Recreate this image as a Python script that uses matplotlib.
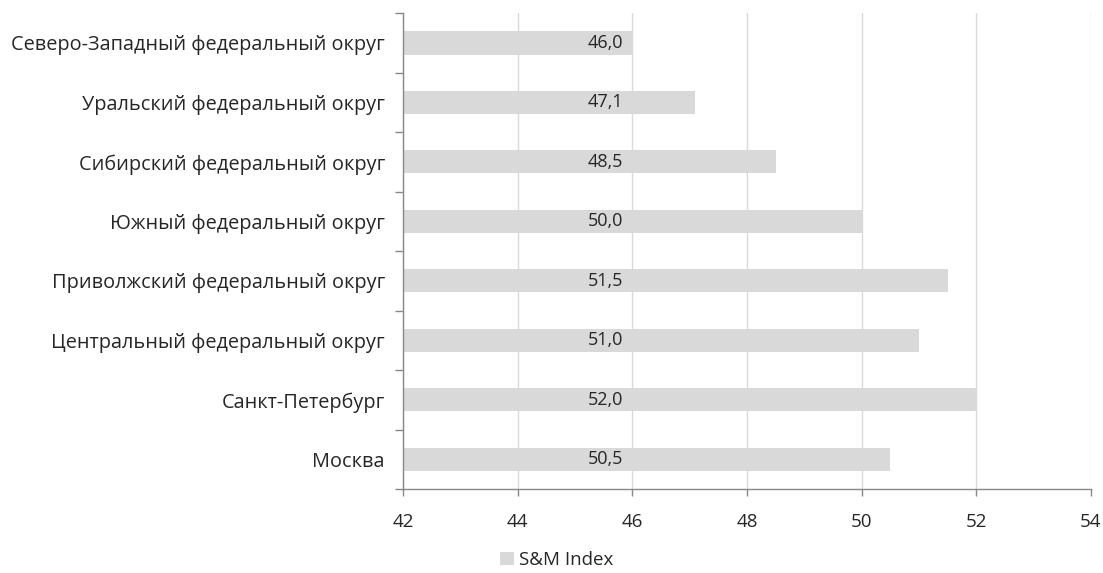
import matplotlib
matplotlib.use("Agg")
import matplotlib.pyplot as plt
from matplotlib.patches import Patch

categories = ["Северо-Западный федеральный округ", "Уральский федеральный округ",
              "Сибирский федеральный округ", "Южный федеральный округ",
              "Приволжский федеральный округ", "Центральный федеральный округ",
              "Санкт-Петербург", "Москва"]
values = [46.0, 47.1, 48.5, 50.0, 51.5, 51.0, 52.0, 50.5]
xticks = [42, 44, 46, 48, 50, 52, 54]
series_name = "S&M Index"

plt.rcParams['font.family'] = ['Open Sans', 'DejaVu Sans']
txt = '#262626'

fig = plt.figure(figsize=(11.03, 5.73), dpi=100)
ax = fig.add_axes([0.3654, 0.1466, 0.6236, 0.8304])

n = len(categories)
ypos = list(range(n - 1, -1, -1))
ax.barh(ypos, [v - 42 for v in values], left=42, height=0.39, color='#d9d9d9', zorder=2)
for y, v in zip(ypos, values):
    ax.text(45.53, y, f"{v:.1f}".replace('.', ','), ha='center', va='center',
            fontsize=13, color=txt, zorder=3)

ax.set_xlim(42, 54)
ax.set_ylim(-0.5, n - 0.5)
ax.set_xticks(xticks)
ax.set_xticklabels([str(t) for t in xticks], fontsize=13.5, color=txt)
ax.set_yticks(ypos)
ax.set_yticklabels(categories, fontsize=14.35, color=txt)
ax.tick_params(axis='y', length=0, pad=13)
ax.set_yticks([i - 0.5 for i in range(n + 1)], minor=True)
ax.tick_params(axis='y', which='minor', length=6, color='#888888', width=1)
ax.tick_params(axis='x', length=5, color='#888888', width=1, pad=12)
ax.grid(axis='x', color='#d9d9d9', linewidth=1, zorder=0)
for s in ['top', 'right']:
    ax.spines[s].set_visible(False)
for s in ['left', 'bottom']:
    ax.spines[s].set_color('#888888')
    ax.spines[s].set_linewidth(1)

fig.legend(handles=[Patch(facecolor='#d9d9d9', label=series_name)], loc='lower center',
           bbox_to_anchor=(0.505, -0.022), frameon=False, fontsize=13.5, handlelength=0.7,
           handleheight=0.7, handletextpad=0.3, labelcolor=txt)

fig.savefig("out.png", dpi=100)
